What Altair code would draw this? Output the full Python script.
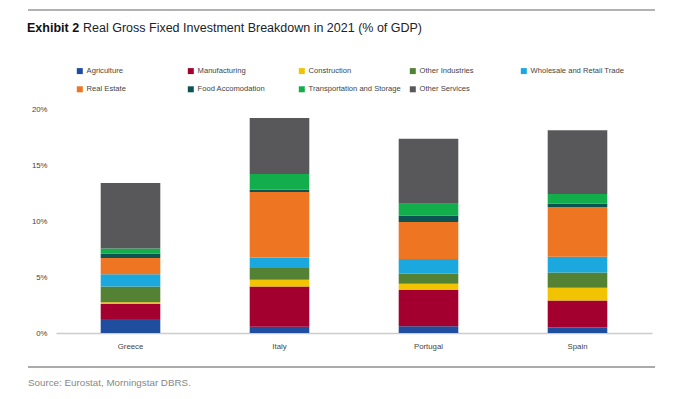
import altair as alt
import pandas as pd

countries = ["Greece", "Italy", "Portugal", "Spain"]
sectors = ["Agriculture", "Manufacturing", "Construction", "Other Industries",
           "Wholesale and Retail Trade", "Real Estate", "Food Accomodation",
           "Transportation and Storage", "Other Services"]
colors = ["#1F4E9E", "#A3002F", "#F2C300", "#548235", "#1BA8DF",
          "#EE7623", "#0B5452", "#12AE4B", "#58585A"]

# % of GDP, per sector, in country order
agriculture = [1.25, 0.55, 0.60, 0.50]
manufacturing = [1.35, 3.60, 3.25, 2.40]
construction = [0.15, 0.60, 0.55, 1.15]
other_industries = [1.40, 1.05, 0.90, 1.35]
wholesale = [1.10, 0.95, 1.30, 1.40]
real_estate = [1.45, 5.85, 3.30, 4.45]
food = [0.40, 0.20, 0.60, 0.30]
transport = [0.45, 1.40, 1.05, 0.85]
other_services = [5.85, 5.00, 5.80, 5.70]

series = [agriculture, manufacturing, construction, other_industries, wholesale,
          real_estate, food, transport, other_services]

rows = []
for i, s in enumerate(sectors):
    for c, v in zip(countries, series[i]):
        rows.append({"Country": c, "Sector": s, "Value": v, "Order": i})
df = pd.DataFrame(rows)

FONT = "Liberation Sans, Arial, sans-serif"
LBL = "#444444"

bars = alt.Chart(df).mark_bar().encode(
    x=alt.X("Country:N", sort=countries,
            scale=alt.Scale(paddingInner=0.6, paddingOuter=0.3),
            axis=alt.Axis(title=None, labelAngle=0, ticks=False, domainColor="#cccccc",
                          domainWidth=1.5, labelPadding=9, labelFont=FONT,
                          labelFontSize=7.8, labelColor=LBL)),
    y=alt.Y("Value:Q", stack="zero",
            scale=alt.Scale(domain=[0, 20], nice=False),
            axis=alt.Axis(title=None, values=[0, 5, 10, 15, 20], grid=False, domain=False,
                          ticks=False, labelPadding=9, labelExpr="datum.value + '%'",
                          labelFont=FONT, labelFontSize=7.8, labelColor=LBL)),
    color=alt.Color("Sector:N", sort=sectors,
                    scale=alt.Scale(domain=sectors, range=colors),
                    legend=alt.Legend(title=None, orient="none", legendX=20, legendY=-42,
                                      columns=5, direction="horizontal", gridAlign="all",
                                      symbolType="square", symbolSize=36, symbolStrokeWidth=0,
                                      labelFont=FONT, labelFontSize=7.6, labelColor=LBL,
                                      labelOffset=3, columnPadding=6, rowPadding=9.5, padding=0,
                                      labelLimit=200)),
    order=alt.Order("Order:Q", sort="ascending"),
)

one = pd.DataFrame({"k": [0]})

title_bold = alt.Chart(one).mark_text(
    align="left", baseline="alphabetic", font=FONT, fontSize=12.5, fontWeight="bold",
    color="#111111").encode(x=alt.value(-29), y=alt.value(-77.5), text=alt.value("Exhibit 2"))
title_rest = alt.Chart(one).mark_text(
    align="left", baseline="alphabetic", font=FONT, fontSize=12.5, color="#222222").encode(
    x=alt.value(27), y=alt.value(-77.5),
    text=alt.value("Real Gross Fixed Investment Breakdown in 2021 (% of GDP)"))
top_rule = alt.Chart(one).mark_rule(color="#999999", strokeWidth=1.5).encode(
    x=alt.value(-28), x2=alt.value(599), y=alt.value(-99))
bottom_rule = alt.Chart(one).mark_rule(color="#aaaaaa", strokeWidth=2).encode(
    x=alt.value(-28), x2=alt.value(599), y=alt.value(258))
source = alt.Chart(one).mark_text(
    align="left", baseline="middle", font=FONT, fontSize=9.8, color="#888888").encode(
    x=alt.value(-28), y=alt.value(274), text=alt.value("Source: Eurostat, Morningstar DBRS."))

chart = alt.layer(bars, title_bold, title_rest, top_rule, bottom_rule, source).properties(
    width=596, height=224,
    autosize=alt.AutoSizeParams(type="none"),
    padding={"left": 48, "top": 101, "right": 40, "bottom": 56},
).configure(background="white", view=alt.ViewConfig(stroke="transparent", strokeWidth=0))

chart.save("out.html", embed_options={"renderer": "svg", "actions": False})
